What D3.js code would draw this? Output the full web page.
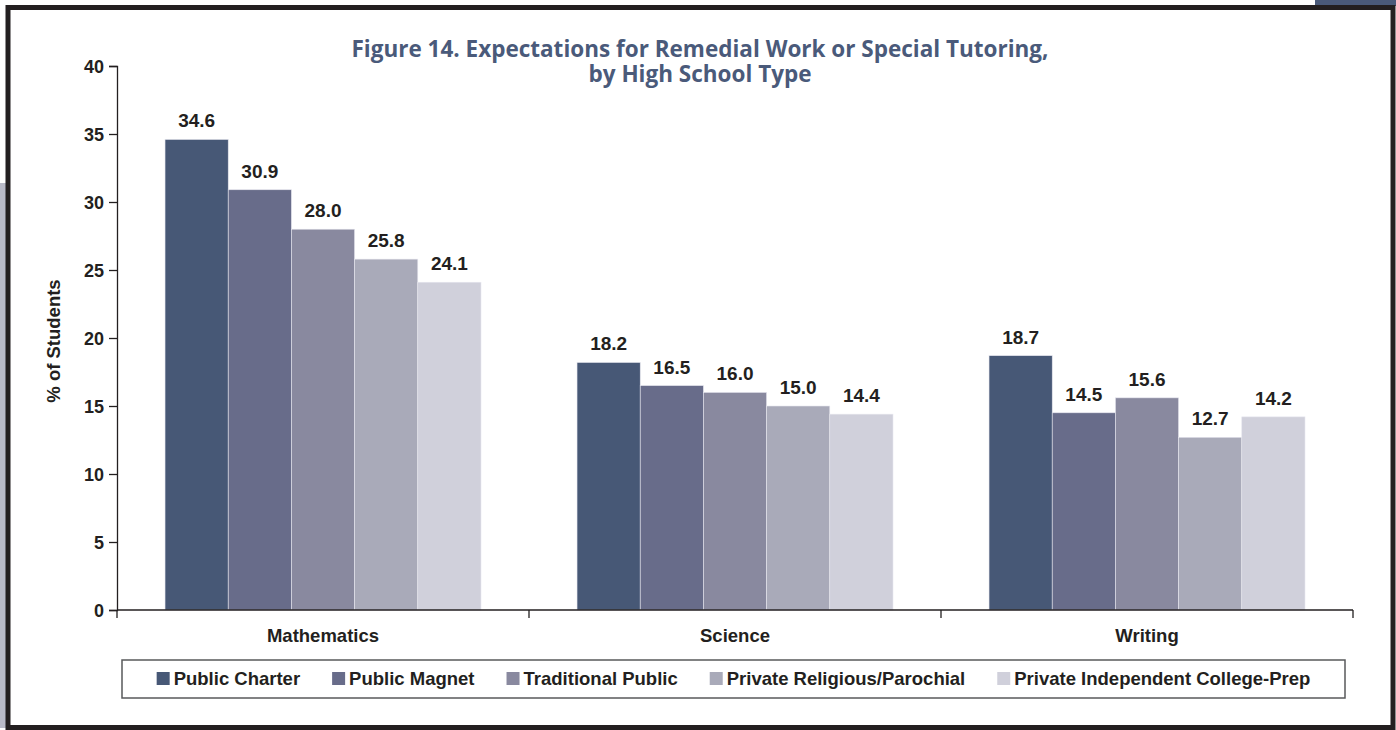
<!DOCTYPE html>
<html>
<head>
<meta charset="utf-8">
<script src="https://cdn.jsdelivr.net/npm/d3@7"></script>
<style>
  body { margin: 0; background: #fff; }
  svg text { font-family: "Liberation Sans", Arial, sans-serif; font-weight: bold; fill: #231f20; }
</style>
</head>
<body>
<div id="chart"></div>
<script>
// data
const categories = ["Mathematics", "Science", "Writing"];
const schoolTypes = ["Public Charter", "Public Magnet", "Traditional Public",
  "Private Religious/Parochial", "Private Independent College-Prep"];
const publicCharter = [34.6, 18.2, 18.7];
const publicMagnet = [30.9, 16.5, 14.5];
const traditionalPublic = [28.0, 16.0, 15.6];
const privateReligious = [25.8, 15.0, 12.7];
const privateIndependent = [24.1, 14.4, 14.2];
const yTicks = [0, 5, 10, 15, 20, 25, 30, 35, 40];

const seriesValues = [publicCharter, publicMagnet, traditionalPublic, privateReligious, privateIndependent];
const colors = ["#475876", "#686c8a", "#89899f", "#a9aab9", "#d0d0db"];

const W = 1396, H = 730;
const svg = d3.select("#chart").append("svg")
  .attr("width", W).attr("height", H);

// frame bits
svg.append("rect").attr("x", 1315).attr("y", 0).attr("width", 81).attr("height", 6).attr("fill", "#4a5a7a");
svg.append("rect").attr("x", 0).attr("y", 183).attr("width", 6).attr("height", 545).attr("fill", "#b9bac8");
svg.append("rect").attr("x", 8).attr("y", 7.5).attr("width", 1385).attr("height", 720)
  .attr("fill", "#fff").attr("stroke", "#231f20").attr("stroke-width", 5);

// title
const title = svg.append("g")
  .style("font-family", "'Open Sans', sans-serif")
  .style("font-size", "22.5px");
title.append("text").attr("x", 700).attr("y", 57).attr("text-anchor", "middle")
  .style("font-family", "'Open Sans', sans-serif").style("fill", "#4a5a7a")
  .text("Figure 14. Expectations for Remedial Work or Special Tutoring,");
title.append("text").attr("x", 700).attr("y", 82).attr("text-anchor", "middle")
  .style("font-family", "'Open Sans', sans-serif").style("fill", "#4a5a7a")
  .text("by High School Type");

const x0 = d3.scaleBand().domain(categories).range([117, 1353]);
const x1 = d3.scaleBand().domain(schoolTypes).range([0, x0.bandwidth()]).paddingOuter(0.76);
const y = d3.scaleLinear().domain([0, 40]).range([610, 66]);

// y axis
const yAxis = svg.append("g").attr("transform", "translate(117,0)")
  .call(d3.axisLeft(y).tickValues(yTicks).tickSize(8).tickPadding(5));
yAxis.select(".domain").attr("stroke", "#231f20").attr("stroke-width", 1.3);
yAxis.selectAll(".tick line").attr("stroke", "#231f20").attr("stroke-width", 1.3);
yAxis.selectAll(".tick text").style("font-size", "18px").attr("font-family", null).attr("dy", "0.36em");

svg.append("text")
  .attr("transform", "translate(60,341) rotate(-90)")
  .attr("text-anchor", "middle")
  .style("font-size", "18.5px")
  .text("% of Students");

// bars
const groups = svg.selectAll(".grp").data(categories).enter().append("g")
  .attr("class", "grp")
  .attr("transform", d => "translate(" + x0(d) + ",0)");

groups.each(function(cat, ci) {
  const g = d3.select(this);
  const rows = schoolTypes.map((s, si) => ({ s: s, v: seriesValues[si][ci], c: colors[si] }));
  g.selectAll("rect").data(rows).enter().append("rect")
    .attr("x", d => x1(d.s))
    .attr("y", d => y(d.v))
    .attr("width", x1.bandwidth())
    .attr("height", d => y(0) - y(d.v))
    .attr("fill", d => d.c)
    .attr("stroke", "#e6e6ee")
    .attr("stroke-width", 0.6);
  g.selectAll(".val").data(rows).enter().append("text")
    .attr("class", "val")
    .attr("x", d => x1(d.s) + x1.bandwidth() / 2)
    .attr("y", d => y(d.v) - 12)
    .attr("text-anchor", "middle")
    .style("font-size", "19px")
    .text(d => d.v.toFixed(1));
});

// x axis
const xAxis = svg.append("g").attr("transform", "translate(0,610)");
xAxis.append("line").attr("x1", 117).attr("x2", 1353).attr("stroke", "#231f20").attr("stroke-width", 1.3);
const bounds = categories.map(c => x0(c)).concat([x0.range()[1]]);
xAxis.selectAll(".bt").data(bounds).enter().append("line")
  .attr("x1", d => d).attr("x2", d => d).attr("y1", 0).attr("y2", 8)
  .attr("stroke", "#231f20").attr("stroke-width", 1.3);
xAxis.selectAll(".cl").data(categories).enter().append("text")
  .attr("x", d => x0(d) + x0.bandwidth() / 2)
  .attr("y", 32)
  .attr("text-anchor", "middle")
  .style("font-size", "18.5px")
  .text(d => d);

// legend
svg.append("rect").attr("x", 122).attr("y", 660).attr("width", 1223).attr("height", 38)
  .attr("fill", "#fff").attr("stroke", "#58595b").attr("stroke-width", 1.5);
const leg = svg.append("g");
const items = leg.selectAll("g").data(schoolTypes).enter().append("g");
items.append("rect").attr("width", 13).attr("height", 13).attr("y", 672)
  .attr("fill", (d, i) => colors[i]);
items.append("text").attr("x", 17).attr("y", 685).style("font-size", "18.5px").text(d => d);
let pos = 0;
const offs = [];
items.each(function() {
  offs.push(pos);
  const w = d3.select(this).select("text").node().getComputedTextLength();
  pos += 17 + w + 32;
});
const total = pos - 32;
const start = 733.5 - total / 2;
items.attr("transform", (d, i) => "translate(" + (start + offs[i]) + ",0)");
</script>
</body>
</html>
